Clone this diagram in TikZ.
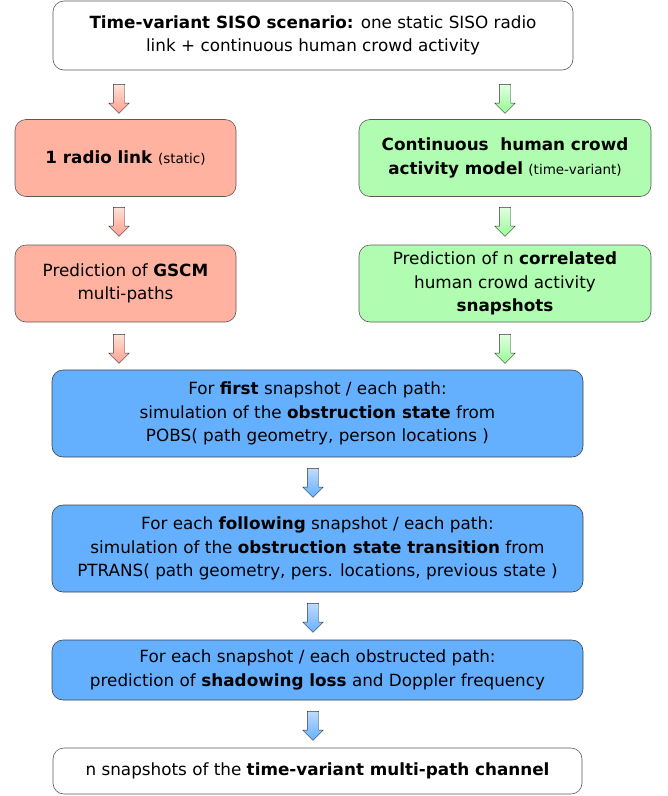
\documentclass[tikz,border=0pt]{standalone}
\usepackage{fontspec}
\setmainfont{DejaVu Sans}
\definecolor{salmonfill}{RGB}{255,178,160}
\definecolor{salmonlight}{RGB}{255,225,215}
\definecolor{mintfill}{RGB}{176,252,176}
\definecolor{mintlight}{RGB}{225,255,225}
\definecolor{skyfill}{RGB}{100,176,255}
\definecolor{skylight}{RGB}{190,220,255}
\definecolor{edgegray}{RGB}{90,90,90}
\usetikzlibrary{shapes.arrows}

\begin{document}
\begin{tikzpicture}[x=1pt,y=-1pt,
		mbox/.style={draw=edgegray, semithick, rounded corners=11pt,
			align=center, inner sep=2pt,
			font=\fontsize{16.8}{23.5}\selectfont},
		topbox/.style={mbox, fill=white, minimum width=520, minimum height=69},
		redbox/.style={mbox, fill=salmonfill, minimum width=221, minimum height=77},
		greenbox/.style={mbox, fill=mintfill, minimum width=292, minimum height=77},
		bluebox/.style={mbox, fill=skyfill, draw=black!75, minimum width=531},
		endbox/.style={mbox, fill=white, minimum width=529, minimum height=46},
		darrow/.style={single arrow, shape border rotate=270, draw=black!80,
			thin, inner sep=5.5pt, minimum height=29,
			single arrow head extend=4.5, single arrow head indent=0pt},
		redarr/.style={darrow, top color=salmonlight, bottom color=salmonfill!90!red},
		greenarr/.style={darrow, top color=mintlight, bottom color=mintfill!85!green},
		bluearr/.style={darrow, top color=skylight, bottom color=skyfill}
	]
		\useasboundingbox (0,0) rectangle (668,796);
		\node[topbox] (scen) at (313,35.5) {\textbf{Time-variant SISO scenario:} one static SISO radio\\link + continuous human crowd activity};
		\node[redarr] (ra1) at (119,96) {};
		\node[greenarr] (ga1) at (505,96) {};
		\node[redbox] (link) at (125.5,158) {\textbf{1 radio link} {\fontsize{13.5}{16}\selectfont(static)}};
		\node[greenbox] (crowd) at (505,158) {\textbf{Continuous\ \ human crowd}\\\textbf{activity model} {\fontsize{13.5}{16}\selectfont(time-variant)}};
		\node[redarr] (ra2) at (119,219) {};
		\node[greenarr] (ga2) at (505,219) {};
		\node[redbox] (gscm) at (125.5,283.5) {Prediction of \textbf{GSCM}\\multi-paths};
		\node[greenbox] (snap) at (505,283.5) {Prediction of n \textbf{correlated}\\human crowd activity\\\textbf{snapshots}};
		\node[redarr] (ra3) at (119,346) {};
		\node[greenarr] (ga3) at (505,346) {};
		\node[bluebox, minimum height=87] (first) at (317.5,413.5) {For \textbf{first} snapshot / each path:\\simulation of the \textbf{obstruction state} from\\POBS( path geometry, person locations )};
		\node[bluearr] (ba1) at (313,480) {};
		\node[bluebox, minimum height=87] (follow) at (317.5,548.5) {For each \textbf{following} snapshot / each path:\\simulation of the \textbf{obstruction state transition} from\\PTRANS( path geometry, pers. locations, previous state )};
		\node[bluearr] (ba2) at (313,615) {};
		\node[bluebox, minimum height=60] (shadow) at (317.5,670) {For each snapshot / each obstructed path:\\prediction of \textbf{shadowing loss} and Doppler frequency};
		\node[bluearr] (ba3) at (313,723) {};
		\node[endbox] (chan) at (317.5,771) {n snapshots of the \textbf{time-variant multi-path channel}};
	\end{tikzpicture}
\end{document}
